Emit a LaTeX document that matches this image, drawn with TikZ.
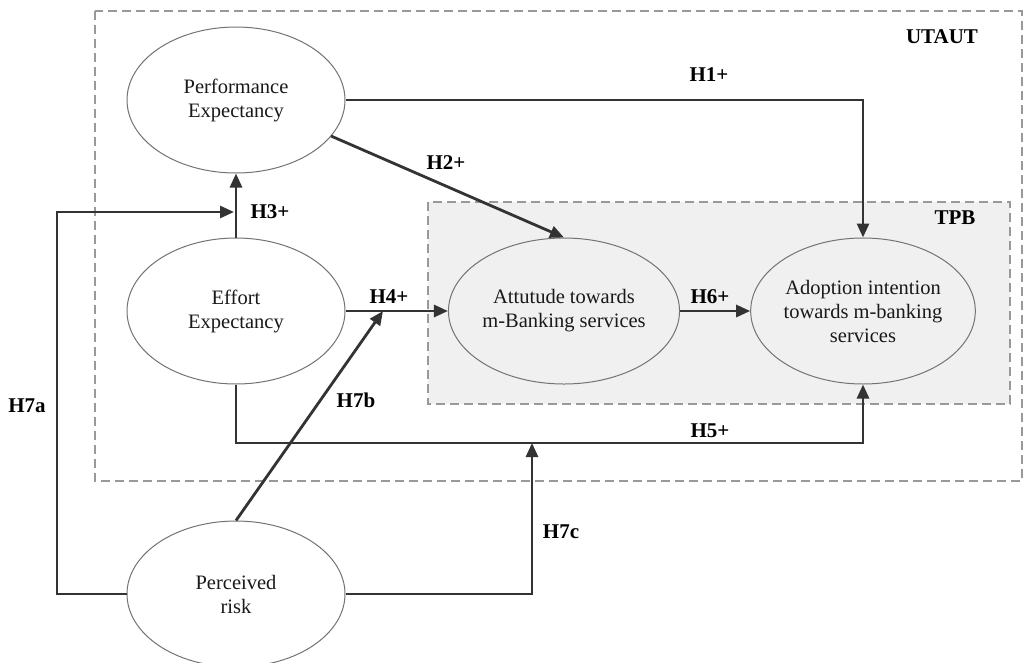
\documentclass[tikz,border=0pt]{standalone}
\usepackage{fontspec}
\setmainfont{Liberation Serif}
\usetikzlibrary{shapes.geometric,arrows.meta}
\begin{document}
\begin{tikzpicture}[x=1pt,y=-1pt,
  construct/.style={ellipse,draw=black!55,line width=1pt,minimum width=218pt,minimum height=146pt,inner sep=0pt,align=center,font=\fontsize{20.5}{24}\selectfont,text=black!90},
  link/.style={draw=black!80,line width=2.8pt,-{Triangle[length=14pt,width=12pt]}},
  hyp/.style={font=\fontsize{21}{24}\selectfont\bfseries,text=black},
  frame/.style={draw=black!40,line width=1.4pt,dash pattern=on 9pt off 5pt}]
\useasboundingbox (0,0) rectangle (1025,662);
% boxes
\draw[frame] (95,11) rectangle (1022,481);
\draw[frame,fill=black!6] (428,202) rectangle (1010,404);
\node[hyp] (utaut) at (942,37) {UTAUT};
\node[hyp] (tpb) at (955,218) {TPB};
% constructs
\node[construct,fill=white] (pe) at (236,100) {Performance\\Expectancy};
\node[construct,fill=white] (ee) at (236,311) {Effort\\Expectancy};
\node[construct,fill=black!6] (at) at (564,311) {Attutude towards\\m-Banking services};
\node[construct,fill=black!6] (ad) at (863,311) {Adoption intention\\towards m-banking\\services};
\node[construct,fill=white] (pr) at (236,594) {Perceived\\risk};
% junction coordinates
\coordinate (h3mid) at (236,212);
\coordinate (h4mid) at (383,311);
\coordinate (h5mid) at (532,443);
\coordinate (h5corner) at (236,443);
\coordinate (h1corner) at (863,100);
\coordinate (h7acorner) at (57,594);
\coordinate (h2start) at (331,136);
% connectors
\draw[link] (pe.east) -- (h1corner) -- (ad.north);
\draw[link] (h2start) -- (at.north);
\draw[link] (ee.north) -- (pe.south);
\draw[link] (ee.east) -- (at.west);
\draw[link] (at.east) -- (ad.west);
\draw[link] (ee.south) -- (h5corner) -| (ad.south);
\draw[link] (pr.west) -- (h7acorner) |- ([xshift=-2pt]h3mid);
\draw[link] (pr.north) -- (h4mid);
\draw[link] (pr.east) -| (h5mid);
% labels
\node[hyp] (l1) at (709,75) {H1+};
\node[hyp] (l2) at (446,163) {H2+};
\node[hyp] (l3) at (270,212) {H3+};
\node[hyp] (l4) at (389,297) {H4+};
\node[hyp] (l5) at (710,431) {H5+};
\node[hyp] (l6) at (710,297) {H6+};
\node[hyp] (l7a) at (27,406) {H7a};
\node[hyp] (l7b) at (356,400) {H7b};
\node[hyp] (l7c) at (561,532) {H7c};
\end{tikzpicture}
\end{document}
